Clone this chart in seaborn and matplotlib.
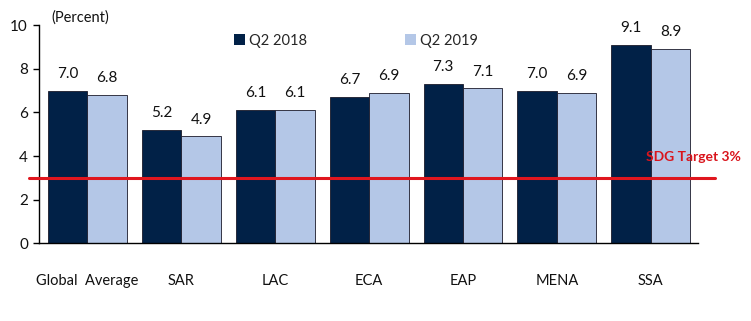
import matplotlib
matplotlib.use("Agg")
import matplotlib.pyplot as plt
import pandas as pd
import seaborn as sns

regions = ["Global  Average", "SAR", "LAC", "ECA", "EAP", "MENA", "SSA"]
q2_2018 = [7.0, 5.2, 6.1, 6.7, 7.3, 7.0, 9.1]
q2_2019 = [6.8, 4.9, 6.1, 6.9, 7.1, 6.9, 8.9]
series = ["Q2 2018", "Q2 2019"]
sdg_target = 3.0

df = pd.DataFrame({
    "Region": regions * 2,
    "Cost": q2_2018 + q2_2019,
    "Quarter": [series[0]] * len(regions) + [series[1]] * len(regions),
})

sns.set_theme(style="white")
plt.rcParams["font.family"] = ["Lato", "DejaVu Sans"]

fig = plt.figure(figsize=(7.51, 3.21), dpi=100)
ax = fig.add_axes([0.052, 0.242, 0.877, 0.68])

palette = {"Q2 2018": "#012147", "Q2 2019": "#B4C7E7"}
sns.barplot(
    data=df, x="Region", y="Cost", hue="Quarter", order=regions,
    palette=palette, width=0.84, edgecolor="#1a1a2a", linewidth=0.6,
    saturation=1, ax=ax,
)

# value labels above each bar
for cont in ax.containers:
    ax.bar_label(cont, fmt="%.1f", padding=7, fontsize=11, color="#111111")

# SDG target line
ax.plot([-0.62, 6.68], [sdg_target, sdg_target], color="#E0161E",
        linewidth=2.2, clip_on=False, zorder=5)
ax.text(6.96, sdg_target + 0.95, f"SDG Target {sdg_target:.0f}%", color="#D9141C",
        fontsize=10, fontweight="bold", ha="right", va="center")

ax.set_ylim(0, 10)
ax.set_xlim(-0.515, 6.5)
ax.set_yticks(range(0, 11, 2))
ax.set_xlabel("")
ax.set_ylabel("")
ax.text(-0.38, 10.35, "(Percent)", fontsize=10.5, ha="left", va="center",
        color="#111111")

for side in ["top", "right"]:
    ax.spines[side].set_visible(False)
for side in ["left", "bottom"]:
    ax.spines[side].set_color("black")
    ax.spines[side].set_linewidth(1)

ax.tick_params(axis="y", left=True, length=4, width=1, color="black",
               labelsize=11, pad=4, labelcolor="#111111")
ax.tick_params(axis="x", bottom=False, labelsize=10.5, pad=16,
               labelcolor="#111111")

leg = ax.legend(loc="upper left", bbox_to_anchor=(0.276, 1.02), ncol=2,
                frameon=False, fontsize=10.5, handlelength=0.75,
                handleheight=0.75, handletextpad=0.3, columnspacing=6.7)
for h in leg.legend_handles:
    h.set_linewidth(0)

fig.savefig("out.png", dpi=100)
